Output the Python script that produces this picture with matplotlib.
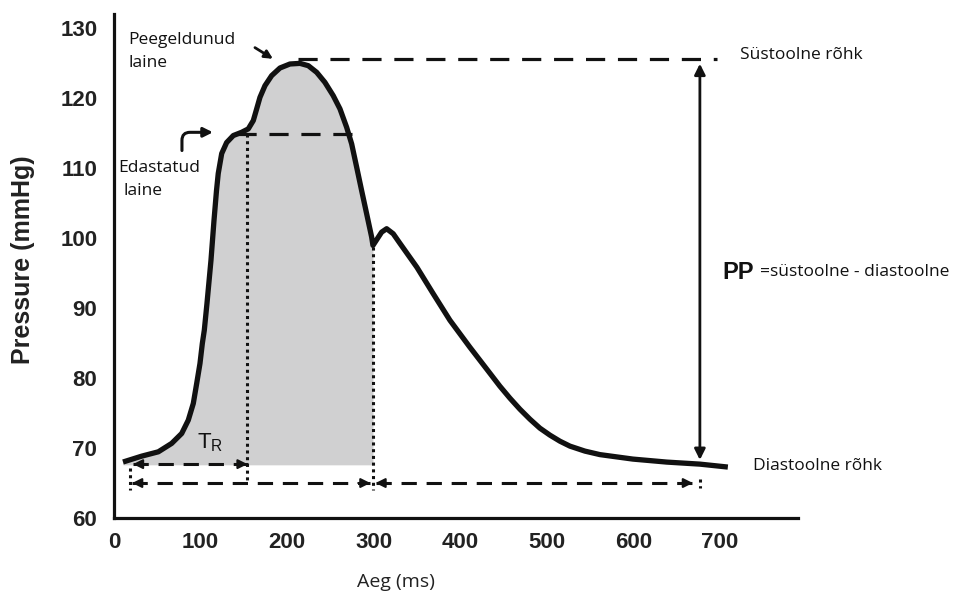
import matplotlib
matplotlib.use('Agg')
import matplotlib.pyplot as plt

plt.rcParams['mathtext.default'] = 'regular'

# pressure wave
time_ms = [10.4, 32.0, 51.2, 66.6, 78.2, 85.8, 91.6, 95.5, 99.3, 102.0, 104.3,
           107.4, 112.0, 115.5, 118.4, 120.4, 124.4, 130.1, 137.8, 147.5, 155.1,
           160.9, 164.8, 168.6, 174.4, 182.1, 191.7, 203.2, 214.8, 224.4, 234.1,
           243.6, 253.2, 261.0, 268.7, 274.5, 280.3, 286.0, 291.8, 297.6, 299.1,
           309.1, 314.9, 322.5, 330.3, 349.9, 368.4, 388.0, 411.1, 434.2, 445.7,
           457.3, 468.8, 480.4, 491.9, 503.5, 515.0, 526.6, 543.9, 561.2, 599.3,
           638.6, 676.7, 709.0]
pressure = [68.0, 68.84, 69.46, 70.66, 72.08, 73.98, 76.37, 79.22, 82.07, 84.92,
            86.82, 90.67, 96.80, 102.51, 106.79, 109.22, 112.07, 113.64, 114.64,
            115.11, 115.59, 116.78, 118.45, 120.10, 121.77, 123.20, 124.29,
            124.86, 124.95, 124.62, 123.67, 122.24, 120.34, 118.45, 115.82,
            113.45, 110.11, 106.79, 103.47, 100.13, 98.94, 100.84, 101.33,
            100.61, 99.23, 95.81, 92.10, 88.25, 84.39, 80.68, 78.83, 77.12,
            75.55, 74.12, 72.84, 71.84, 70.98, 70.27, 69.56, 69.06, 68.42,
            67.99, 67.70, 67.28]

x_ticks = [0, 100, 200, 300, 400, 500, 600, 700]
y_ticks = [60, 70, 80, 90, 100, 110, 120, 130]

systolic = 125.6
shoulder = 114.9
diastolic = 67.6
t_shoulder = 153.2
t_notch = 299.1
t_end = 676.7

fig = plt.figure(figsize=(9.62, 5.94), dpi=100)
ax = fig.add_axes([0.1185, 0.1279, 0.711, 0.8485])

ax.set_xlim(0, 790)
ax.set_ylim(60, 132)

# grey area under the curve up to the notch
fx = [t for t in time_ms if t <= t_notch]
fy = pressure[:len(fx)]
ax.fill_between(fx, fy, diastolic, color='#d0d0d1', lw=0, zorder=1)

ax.plot(time_ms, pressure, color='#111111', lw=3.8, solid_capstyle='butt',
        solid_joinstyle='round', zorder=5)

# reference dashed lines
ax.plot([212, 696], [systolic, systolic], color='#111111', lw=2.3,
        linestyle=(0, (6, 4)), zorder=4)
ax.plot([142, 281], [shoulder, shoulder], color='#111111', lw=2.3,
        linestyle=(0, (6, 4)), zorder=4)

# dotted verticals
ax.plot([t_shoulder, t_shoulder], [shoulder, 65.0], color='#111111', lw=2.2,
        linestyle=(0, (1, 1.2)), zorder=4)
ax.plot([t_notch, t_notch], [98.7, 64.0], color='#111111', lw=2.2,
        linestyle=(0, (1, 1.2)), zorder=4)
ax.plot([18.5, 18.5], [67.1, 64.0], color='#111111', lw=2.2,
        linestyle=(0, (1, 1.2)), zorder=4)
ax.plot([t_end, t_end], [65.6, 64.3], color='#111111', lw=2.2,
        linestyle=(0, (1, 1.2)), zorder=4)


def dashed_arrow(x0, x1, y, left=True, right=True):
    ax.plot([x0, x1], [y, y], color='#111111', lw=2.2,
            linestyle=(0, (5, 3.2)), zorder=4)
    head = dict(arrowstyle='-|>', color='#111111', lw=1.5, mutation_scale=14,
                shrinkA=0, shrinkB=0)
    if left:
        ax.annotate('', xy=(x0, y), xytext=(x0 + 14, y), arrowprops=head, zorder=6)
    if right:
        ax.annotate('', xy=(x1, y), xytext=(x1 - 14, y), arrowprops=head, zorder=6)


dashed_arrow(22, t_shoulder + 1, 67.7)
dashed_arrow(21, t_notch - 3, 65.0)
dashed_arrow(t_notch + 3, 668.6, 65.0)

# pulse pressure arrow
ax.annotate('', xy=(t_end, 124.9), xytext=(t_end, 68.3),
            arrowprops=dict(arrowstyle='<|-|>', color='#111111', lw=2.0,
                            mutation_scale=16, shrinkA=0, shrinkB=0))

# small pointer arrows
ax.annotate('', xy=(183.6, 125.6), xytext=(162.8, 127.2),
            arrowprops=dict(arrowstyle='-|>', color='#111111', lw=2.0,
                            mutation_scale=12, shrinkA=0, shrinkB=0))
ax.annotate('', xy=(114.3, 115.1), xytext=(78.5, 112.5),
            arrowprops=dict(arrowstyle='-|>', color='#111111', lw=2.2,
                            mutation_scale=14, shrinkA=0, shrinkB=0,
                            connectionstyle='angle,angleA=90,angleB=0,rad=8'))

note = dict(family='Open Sans', fontsize=12.5, color='#111111', va='baseline',
            ha='left')
ax.text(722.9, 125.6, 'Süstoolne rõhk', clip_on=False, **note)
ax.text(737.9, 66.9, 'Diastoolne rõhk', clip_on=False, **note)
ax.text(16.5, 127.7, 'Peegeldunud', **note)
ax.text(16.5, 124.5, 'laine', **note)
ax.text(5.0, 109.4, 'Edastatud', **note)
ax.text(10.7, 106.2, 'laine', **note)
ax.text(702.1, 94.2, 'PP', family='Liberation Sans', fontsize=17,
        fontweight='bold', color='#111111', va='baseline', clip_on=False)
ax.text(746.0, 94.6, '=süstoolne - diastoolne', clip_on=False, **note)
ax.text(95.8, 69.9, '$T_R$', family='Liberation Sans', fontsize=16,
        color='#111111', va='baseline')

for side in ['top', 'right']:
    ax.spines[side].set_visible(False)
for side in ['left', 'bottom']:
    ax.spines[side].set_linewidth(2.3)
    ax.spines[side].set_color('#111111')

ax.set_xticks(x_ticks)
ax.set_yticks(y_ticks)
ax.tick_params(axis='both', length=0, labelsize=16, colors='#222222')
ax.tick_params(axis='y', pad=12)
ax.tick_params(axis='x', pad=10)
for lbl in ax.get_xticklabels() + ax.get_yticklabels():
    lbl.set_fontfamily('Liberation Sans')
    lbl.set_fontweight('bold')

ax.set_ylabel('Pressure (mmHg)', family='Liberation Sans', fontsize=18,
              fontweight='bold', color='#222222')
ax.yaxis.set_label_coords(-0.1155, 0.512)
ax.set_xlabel('Aeg (ms)', family='Open Sans', fontsize=14, color='#222222')
ax.xaxis.set_label_coords(0.4123, -0.1085)

fig.savefig('out.png', dpi=100)
